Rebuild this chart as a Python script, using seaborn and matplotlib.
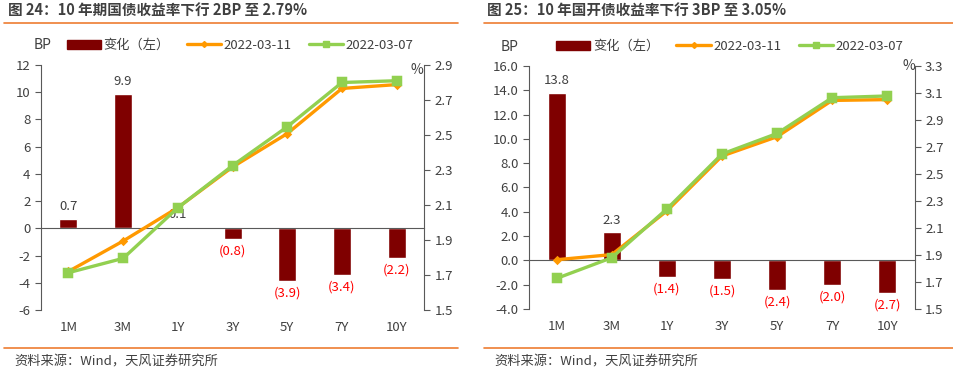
import numpy as np
import pandas as pd
import matplotlib
matplotlib.use('Agg')
import matplotlib.pyplot as plt
import seaborn as sns
from matplotlib.patches import Patch
from matplotlib.lines import Line2D
from matplotlib.ticker import FormatStrFormatter

# data
tenors = ['1M', '3M', '1Y', '3Y', '5Y', '7Y', '10Y']

gz_change = [0.7, 9.9, 0.1, -0.8, -3.9, -3.4, -2.2]
gz_0311 = [1.72, 1.894, 2.085, 2.317, 2.508, 2.766, 2.788]
gz_0307 = [1.713, 1.795, 2.084, 2.325, 2.547, 2.80, 2.81]

gk_change = [13.8, 2.3, -1.4, -1.5, -2.4, -2.0, -2.7]
gk_0311 = [1.865, 1.903, 2.227, 2.633, 2.776, 3.045, 3.051]
gk_0307 = [1.727, 1.88, 2.241, 2.648, 2.80, 3.065, 3.078]

titles = ['图 24：10 年期国债收益率下行 2BP 至 2.79%',
          '图 25：10 年国开债收益率下行 3BP 至 3.05%']
source = '资料来源：Wind，天风证券研究所'

BAR = '#7F0000'
ORANGE = '#FF9900'
GREEN = '#92D050'
AXC = '#595959'
TXT = '#404040'
LINE_ORANGE = '#ED7D31'

sns.set_style('white')
plt.rcParams['font.family'] = ['Noto Sans CJK SC', 'DejaVu Sans']
plt.rcParams['axes.unicode_minus'] = False

fig = plt.figure(figsize=(9.54, 3.72), dpi=100)


def draw_panel(rect, change, y11, y07, ylim, yticks, ylim2, yticks2, lfmt, bp_x, pct_xy):
    df = pd.DataFrame({'tenor': tenors, 'chg': change, 'y11': y11, 'y07': y07})
    ax = fig.add_axes(rect)
    sns.barplot(data=df, x='tenor', y='chg', color=BAR, saturation=1, width=0.33, ax=ax)
    ax2 = ax.twinx()
    sns.pointplot(data=df, x='tenor', y='y11', color=ORANGE, markers='D', markersize=3,
                  linewidth=2.4, errorbar=None, ax=ax2)
    sns.pointplot(data=df, x='tenor', y='y07', color=GREEN, markers='s', markersize=6,
                  linewidth=2.4, errorbar=None, ax=ax2)

    ax.set_ylim(*ylim)
    ax.set_yticks(yticks)
    ax.yaxis.set_major_formatter(FormatStrFormatter(lfmt))
    ax2.set_ylim(*ylim2)
    ax2.set_yticks(yticks2)
    ax2.yaxis.set_major_formatter(FormatStrFormatter('%.1f'))
    ax.set_xlim(-0.5, len(tenors) - 0.5)
    ax.set_xlabel('')
    ax.set_ylabel('')
    ax2.set_ylabel('')

    # category axis crosses at zero, boundary ticks only
    ax.spines['bottom'].set_position(('data', 0))
    ax.set_xticks(np.arange(len(tenors) + 1) - 0.5)
    ax.tick_params(axis='x', direction='out', length=4, color=AXC, labelbottom=False)
    sec = ax.secondary_xaxis(0)
    sec.set_xticks(range(len(tenors)))
    sec.set_xticklabels(tenors)
    sec.tick_params(length=0, pad=8, labelsize=9.5, labelcolor=TXT)
    sec.spines['bottom'].set_visible(False)

    for s in ['top', 'right']:
        ax.spines[s].set_visible(False)
    for s in ['top', 'left', 'bottom']:
        ax2.spines[s].set_visible(False)
    ax.spines['left'].set_color(AXC)
    ax.spines['bottom'].set_color(AXC)
    ax2.spines['right'].set_color(AXC)
    ax.tick_params(axis='y', direction='out', length=4, color=AXC, labelsize=9.5,
                   labelcolor=TXT, left=True)
    ax2.tick_params(axis='y', direction='out', length=4, color=AXC, labelsize=9.5,
                    labelcolor=TXT, right=True)

    for i, v in enumerate(change):
        if v >= 0:
            ax.annotate(f'{v:.1f}', (i, v), xytext=(0, 4), textcoords='offset points',
                        ha='center', va='bottom', fontsize=9.5, color=TXT)
        else:
            ax.annotate(f'({abs(v):.1f})', (i, v), xytext=(0, -4), textcoords='offset points',
                        ha='center', va='top', fontsize=9.5, color='#FF0000')

    handles = [Patch(color=BAR),
               Line2D([], [], color=ORANGE, lw=2.4, marker='D', markersize=3),
               Line2D([], [], color=GREEN, lw=2.4, marker='s', markersize=5)]
    labels = ['变化（左）', '2022-03-11', '2022-03-07']
    ax2.legend(handles, labels, loc='center', bbox_to_anchor=(0.52, 1.08), ncol=3,
               frameon=False, fontsize=9.5, handlelength=2.6, handletextpad=0.2,
               columnspacing=1.3, labelcolor=TXT)
    ax.text(bp_x, 1.08, 'BP', transform=ax.transAxes, ha='center', va='center',
            fontsize=10, color=TXT)
    ax.text(pct_xy[0], pct_xy[1], '%', transform=ax.transAxes, ha='center', va='center',
            fontsize=10, color=TXT)


draw_panel([0.043, 0.1667, 0.4015, 0.6586], gz_change, gz_0311, gz_0307,
           (-6, 12), np.arange(-6, 13, 2), (1.5, 2.9), np.arange(1.5, 2.91, 0.2),
           '%d', 0.004, (0.982, 0.98))
draw_panel([0.5548, 0.1694, 0.404, 0.6532], gk_change, gk_0311, gk_0307,
           (-4, 16), np.arange(-4, 16.1, 2), (1.5, 3.3), np.arange(1.5, 3.31, 0.2),
           '%.1f', -0.05, (0.985, 1.0))

# titles, separators and source lines
for x0, x1, t in [(0.004, 0.48, titles[0]), (0.507, 1.0, titles[1])]:
    fig.text(x0 + 0.004, 1 - 10 / 372, t, ha='left', va='center', fontsize=10.5,
             fontweight='bold', color=TXT)
    fig.add_artist(Line2D([x0, x1], [1 - 23 / 372] * 2, color=LINE_ORANGE, lw=1.2))
    fig.add_artist(Line2D([x0, x1], [1 - 348 / 372] * 2, color=LINE_ORANGE, lw=1.2))
    fig.text(x0 + 0.011, 1 - 362 / 372, source, ha='left', va='center', fontsize=9.5,
             color=TXT)

fig.savefig('out.png', dpi=100)
